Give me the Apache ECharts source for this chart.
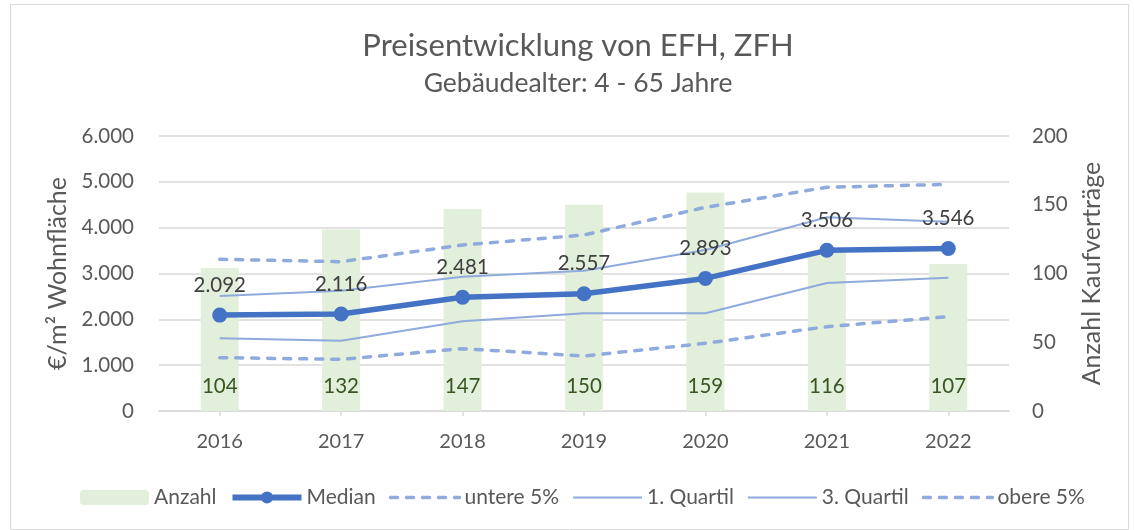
<!DOCTYPE html>
<html>
<head>
<meta charset="utf-8">
<script src="https://cdn.jsdelivr.net/npm/echarts@6/dist/echarts.min.js"></script>
<style>
html,body{margin:0;padding:0;background:#fff;}
#chart{width:1134px;height:530px;}
</style>
</head>
<body>
<div id="chart"></div>
<script>
// Jahre und Kennwerte (€/m² Wohnfläche, Anzahl Kaufverträge)
const years = ['2016', '2017', '2018', '2019', '2020', '2021', '2022'];
const anzahl = [104, 132, 147, 150, 159, 116, 107];
const median = [2092, 2116, 2481, 2557, 2893, 3506, 3546];
const untere5 = [1164, 1127, 1360, 1200, 1477, 1840, 2058];
const quartil1 = [1586, 1534, 1956, 2131, 2131, 2793, 2909];
const quartil3 = [2509, 2625, 2931, 3062, 3513, 4226, 4131];
const obere5 = [3310, 3258, 3622, 3840, 4444, 4881, 4946];

const FONT = 'Lato, "Open Sans", sans-serif';
const TXT = '#595959';
const LIGHT = '#8FAADC';
const DASH = { color: LIGHT, width: 3.5, type: [7, 9], cap: 'round' };

// Tausendertrennzeichen mit Punkt
const de = v => String(Math.round(v)).replace(/\B(?=(\d{3})+(?!\d))/g, '.');

// Legendeneinträge der Linien ohne Punktsymbol
const noMarker = (name, width) => ({ name: name, itemStyle: { opacity: 0 }, lineStyle: { width: width } });

const chart = echarts.init(document.getElementById('chart'));
chart.setOption({
  animation: false,
  textStyle: { fontFamily: FONT },
  graphic: [{
    type: 'rect', left: 8, top: 2, silent: true,
    shape: { width: 1118, height: 525 },
    style: { fill: 'none', stroke: '#d9d9d9', lineWidth: 1 }
  }],
  title: {
    text: 'Preisentwicklung von EFH, ZFH',
    subtext: 'Gebäudealter: 4 - 65 Jahre',
    left: 573, textAlign: 'center', top: 25, itemGap: 9,
    textStyle: { fontFamily: FONT, fontSize: 31, fontWeight: 'normal', color: TXT },
    subtextStyle: { fontFamily: FONT, fontSize: 26.5, color: TXT }
  },
  legend: {
    top: 482, left: 75, itemGap: 13, itemWidth: 69, itemHeight: 15,
    textStyle: { fontFamily: FONT, fontSize: 21, color: TXT },
    data: ['Anzahl', { name: 'Median', lineStyle: { width: 6 } },
           noMarker('untere 5%', 3.5), noMarker('1. Quartil', 2),
           noMarker('3. Quartil', 2), noMarker('obere 5%', 3.5)]
  },
  grid: { left: 159, right: 125, top: 136, bottom: 119 },
  xAxis: {
    type: 'category', data: years,
    axisLine: { lineStyle: { color: '#d9d9d9', width: 1.5 } },
    axisTick: { show: true, alignWithLabel: true, length: 5, lineStyle: { color: '#d9d9d9', width: 1.5 } },
    axisLabel: { fontFamily: FONT, fontSize: 20, color: TXT, margin: 21 }
  },
  yAxis: [{
    type: 'value', min: 0, max: 6000, interval: 1000,
    name: '€/m² Wohnfläche', nameLocation: 'middle', nameGap: 86, nameRotate: 90,
    nameTextStyle: { fontFamily: FONT, fontSize: 25, color: TXT },
    axisLabel: { fontFamily: FONT, fontSize: 20.5, color: TXT, margin: 25, formatter: de },
    axisLine: { show: false }, axisTick: { show: false },
    splitLine: { lineStyle: { color: '#d9d9d9', width: 1.5 } }
  }, {
    type: 'value', min: 0, max: 200, interval: 50,
    name: 'Anzahl Kaufverträge', nameLocation: 'middle', nameGap: 70, nameRotate: 90,
    nameTextStyle: { fontFamily: FONT, fontSize: 25, color: TXT },
    axisLabel: { fontFamily: FONT, fontSize: 20.5, color: TXT, margin: 23 },
    axisLine: { show: false }, axisTick: { show: false },
    splitLine: { show: false }
  }],
  series: [{
    name: 'Anzahl', type: 'bar', yAxisIndex: 1, data: anzahl,
    barWidth: 38, z: 1,
    itemStyle: { color: '#E2EFDA' },
    label: { show: true, position: 'insideBottom', distance: 14,
      fontFamily: FONT, fontSize: 20.5, color: '#375623' }
  }, {
    name: 'untere 5%', type: 'line', data: untere5, symbol: 'none', z: 2,
    lineStyle: DASH, itemStyle: { color: LIGHT }
  }, {
    name: '1. Quartil', type: 'line', data: quartil1, symbol: 'none', z: 2,
    lineStyle: { color: LIGHT, width: 2 }, itemStyle: { color: LIGHT }
  }, {
    name: '3. Quartil', type: 'line', data: quartil3, symbol: 'none', z: 2,
    lineStyle: { color: LIGHT, width: 2 }, itemStyle: { color: LIGHT }
  }, {
    name: 'obere 5%', type: 'line', data: obere5, symbol: 'none', z: 2,
    lineStyle: DASH, itemStyle: { color: LIGHT }
  }, {
    name: 'Median', type: 'line', data: median, z: 5,
    symbol: 'circle', symbolSize: 15,
    lineStyle: { color: '#4472C4', width: 5.5 }, itemStyle: { color: '#4472C4' },
    label: { show: true, position: 'top', distance: 12,
      fontFamily: FONT, fontSize: 20.5, color: '#404040', formatter: p => de(p.value) }
  }]
});
</script>
</body>
</html>
